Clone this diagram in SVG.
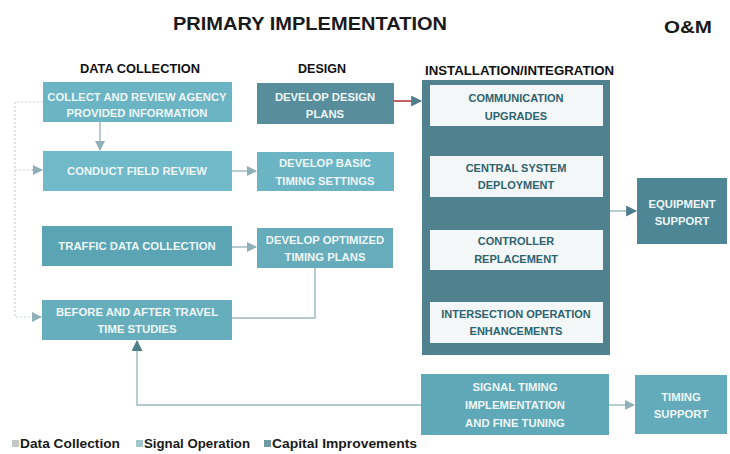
<svg xmlns="http://www.w3.org/2000/svg" width="730" height="454" viewBox="0 0 730 454">
  <defs>
    <marker id="arr" viewBox="0 0 10 10" refX="9" refY="5" markerWidth="10" markerHeight="10" markerUnits="userSpaceOnUse" orient="auto">
      <path d="M0,0 L10,5 L0,10 z" fill="#8fb0b6"/>
    </marker>
    <marker id="arrDark" viewBox="0 0 10 10" refX="9" refY="5" markerWidth="11" markerHeight="11" markerUnits="userSpaceOnUse" orient="auto">
      <path d="M0,0 L10,5 L0,10 z" fill="#4f7e8b"/>
    </marker>
  </defs>
  <style>
    .title { font-family: "Liberation Sans", Arial, sans-serif; font-weight: bold; fill: #1a1a1a; }
    .head { font-family: "Liberation Sans", Arial, sans-serif; font-weight: bold; font-size: 13px; fill: #111; }
    .box { stroke: none; }
    .lbl { font-family: "Liberation Sans", Arial, sans-serif; font-weight: bold; font-size: 11.3px; fill: #eef6f7; text-anchor: middle; }
    .wlbl { font-family: "Liberation Sans", Arial, sans-serif; font-weight: bold; font-size: 11px; fill: #2d6370; text-anchor: middle; }
    .conn { fill: none; stroke: #9ab8bd; stroke-width: 1.4; }
    .dot { fill: none; stroke: #c9d3d5; stroke-width: 1.2; stroke-dasharray: 2 2; }
    .leg { font-family: "Liberation Sans", Arial, sans-serif; font-weight: bold; font-size: 12px; fill: #1a1a1a; }
  </style>
  <rect width="730" height="454" fill="#ffffff"/>

  <!-- headings -->
  <text class="title" x="173" y="30" font-size="18" textLength="274" lengthAdjust="spacingAndGlyphs">PRIMARY IMPLEMENTATION</text>
  <text class="title" x="664" y="33" font-size="17" textLength="48" lengthAdjust="spacingAndGlyphs">O&amp;M</text>
  <text class="head" x="80" y="73" textLength="120" lengthAdjust="spacingAndGlyphs">DATA COLLECTION</text>
  <text class="head" x="298" y="73" textLength="48" lengthAdjust="spacingAndGlyphs">DESIGN</text>
  <text class="head" x="425" y="75" textLength="189" lengthAdjust="spacingAndGlyphs">INSTALLATION/INTEGRATION</text>

  <!-- connectors -->
  <g id="connectors">
    <path class="dot" d="M43,102 H15 V317 H32"/>
    <path class="dot" d="M15,170 H32"/>
    <path class="conn" d="M32,170 H42" marker-end="url(#arr)"/>
    <path class="conn" d="M32,317 H41" marker-end="url(#arr)"/>
    <path class="conn" d="M100,122 V150" marker-end="url(#arr)"/>
    <path class="conn" d="M232,171 H256" marker-end="url(#arr)"/>
    <path class="conn" d="M232,247 H256" marker-end="url(#arr)"/>
    <path class="conn" d="M315,268 V318 H232"/>
    <path d="M394,101 H421" fill="none" stroke="#b23a40" stroke-width="1.6" marker-end="url(#arrDark)"/>
    <path class="conn" d="M610,211 H636" marker-end="url(#arrDark)"/>
    <path class="conn" d="M609,405 H634" marker-end="url(#arr)"/>
    <path class="conn" d="M421,405 H137 V341" marker-end="url(#arrDark)"/>
  </g>

  <!-- data collection column -->
  <g id="collect-review">
    <rect class="box" x="43" y="82" width="189" height="40" fill="#6ab4c4"/>
    <text class="lbl" x="137" y="101">COLLECT AND REVIEW AGENCY</text>
    <text class="lbl" x="137" y="117">PROVIDED INFORMATION</text>
  </g>
  <g id="field-review">
    <rect class="box" x="43" y="151" width="189" height="40" fill="#70b9c8"/>
    <text class="lbl" x="137" y="175">CONDUCT FIELD REVIEW</text>
  </g>
  <g id="traffic-data">
    <rect class="box" x="42" y="226" width="190" height="40" fill="#5aa4b4"/>
    <text class="lbl" x="137" y="250">TRAFFIC DATA COLLECTION</text>
  </g>
  <g id="travel-time">
    <rect class="box" x="42" y="300" width="190" height="40" fill="#67aebd"/>
    <text class="lbl" x="137" y="316">BEFORE AND AFTER TRAVEL</text>
    <text class="lbl" x="137" y="333">TIME STUDIES</text>
  </g>

  <!-- design column -->
  <g id="design-plans">
    <rect class="box" x="257" y="83" width="137" height="41" fill="#588d9c"/>
    <text class="lbl" x="325" y="101">DEVELOP DESIGN</text>
    <text class="lbl" x="325" y="118">PLANS</text>
  </g>
  <g id="basic-timing">
    <rect class="box" x="257" y="152" width="137" height="39" fill="#6bb4c3"/>
    <text class="lbl" x="325" y="167">DEVELOP BASIC</text>
    <text class="lbl" x="325" y="185">TIMING SETTINGS</text>
  </g>
  <g id="optimized-timing">
    <rect class="box" x="257" y="228" width="136" height="40" fill="#66acbb"/>
    <text class="lbl" x="325" y="244">DEVELOP OPTIMIZED</text>
    <text class="lbl" x="325" y="261">TIMING PLANS</text>
  </g>

  <!-- installation / integration -->
  <g id="installation">
    <rect class="box" x="422" y="80" width="188" height="275" fill="#50818f"/>
    <rect x="430" y="85" width="173" height="41" fill="#f4f7f7"/>
    <text class="wlbl" x="516" y="102">COMMUNICATION</text>
    <text class="wlbl" x="516" y="120">UPGRADES</text>
    <rect x="430" y="156" width="173" height="41" fill="#f4f7f7"/>
    <text class="wlbl" x="516" y="172">CENTRAL SYSTEM</text>
    <text class="wlbl" x="516" y="189">DEPLOYMENT</text>
    <rect x="430" y="230" width="173" height="40" fill="#f4f7f7"/>
    <text class="wlbl" x="516" y="245">CONTROLLER</text>
    <text class="wlbl" x="516" y="263">REPLACEMENT</text>
    <rect x="430" y="302" width="173" height="41" fill="#f4f7f7"/>
    <text class="wlbl" x="516" y="318">INTERSECTION OPERATION</text>
    <text class="wlbl" x="516" y="335">ENHANCEMENTS</text>
  </g>

  <g id="signal-timing">
    <rect class="box" x="421" y="374" width="188" height="61" fill="#5fa8b7"/>
    <text class="lbl" x="515" y="391">SIGNAL TIMING</text>
    <text class="lbl" x="515" y="409">IMPLEMENTATION</text>
    <text class="lbl" x="515" y="427">AND FINE TUNING</text>
  </g>

  <!-- O&M -->
  <g id="equipment-support">
    <rect class="box" x="637" y="178" width="90" height="66" fill="#4d8695"/>
    <text class="lbl" x="682" y="208">EQUIPMENT</text>
    <text class="lbl" x="682" y="225">SUPPORT</text>
  </g>
  <g id="timing-support">
    <rect class="box" x="635" y="375" width="92" height="59" fill="#63abba"/>
    <text class="lbl" x="681" y="401">TIMING</text>
    <text class="lbl" x="681" y="418">SUPPORT</text>
  </g>

  <!-- legend -->
  <g id="legend">
    <rect x="12" y="440" width="7" height="7" fill="#c3c6c7"/>
    <text class="leg" x="20" y="448" textLength="100" lengthAdjust="spacingAndGlyphs">Data Collection</text>
    <rect x="136" y="440" width="7" height="7" fill="#a3c7cf"/>
    <text class="leg" x="144" y="448" textLength="106" lengthAdjust="spacingAndGlyphs">Signal Operation</text>
    <rect x="264" y="440" width="7" height="7" fill="#6e9aa6"/>
    <text class="leg" x="272" y="448" textLength="145" lengthAdjust="spacingAndGlyphs">Capital Improvements</text>
  </g>
</svg>
